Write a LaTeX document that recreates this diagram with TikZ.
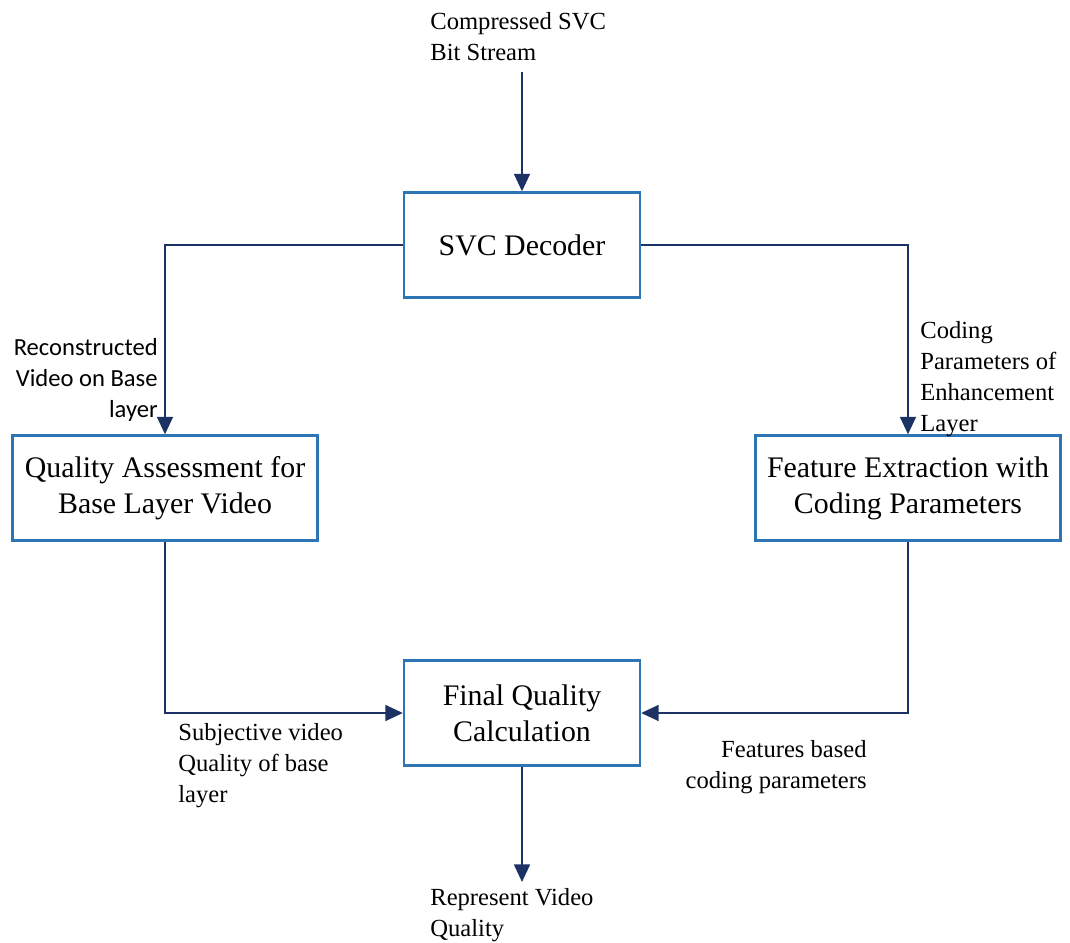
\documentclass[tikz,border=0pt]{standalone}
\usepackage{fontspec}
\setmainfont{Liberation Serif}
\newfontfamily\calfont{Carlito}
\usetikzlibrary{arrows.meta,positioning}
\definecolor{boxblue}{RGB}{46,117,182}
\definecolor{navy}{RGB}{28,50,100}

\begin{document}
\begin{tikzpicture}[x=0.02cm,y=-0.02cm,
  block/.style={draw=boxblue, line width=1.3pt, fill=white, minimum width=236*0.02cm, minimum height=105*0.02cm, align=center, font=\fontsize{17}{20.5}\selectfont},
  wide/.style={block, minimum width=305*0.02cm},
  lbl/.style={inner sep=0pt, font=\fontsize{14}{17.6}\selectfont},
  flow/.style={draw=navy, line width=1.3pt, -{Triangle[length=10pt,width=9pt]}}
]
\useasboundingbox (0,0) rectangle (1070,942);
\node[block] (dec) at (522,245) {SVC Decoder};
\node[wide] (qa) at (165,488) {Quality Assessment for\\Base Layer Video};
\node[wide] (fe) at (908,488) {Feature Extraction with\\Coding Parameters};
\node[block] (fin) at (522,713) {Final Quality\\Calculation};
\coordinate (src) at (522,72);
\coordinate (out) at (522,882);
\node[lbl, anchor=north west, align=left] (srclbl) at (430,12) {Compressed SVC\\Bit Stream};
\node[lbl, anchor=north east, align=right, font=\calfont\fontsize{14}{17.6}\selectfont] (reclbl) at (158,338) {Reconstructed\\Video on Base\\layer};
\node[lbl, anchor=north west, align=left] (codlbl) at (920,321) {Coding\\Parameters of\\Enhancement\\Layer};
\node[lbl, anchor=north west, align=left] (sublbl) at (178,723) {Subjective video\\Quality of base\\layer};
\node[lbl, anchor=north east, align=right] (featlbl) at (867,740) {Features based\\coding parameters};
\node[lbl, anchor=north west, align=left] (replbl) at (430,888) {Represent Video\\Quality};
\draw[flow] (src) -- (dec);
\draw[flow] (dec.west) -| (qa.north);
\draw[flow] (dec.east) -| (fe.north);
\draw[flow] (qa.south) |- (fin.west);
\draw[flow] (fe.south) |- (fin.east);
\draw[flow] (fin) -- (out);
\end{tikzpicture}
\end{document}
